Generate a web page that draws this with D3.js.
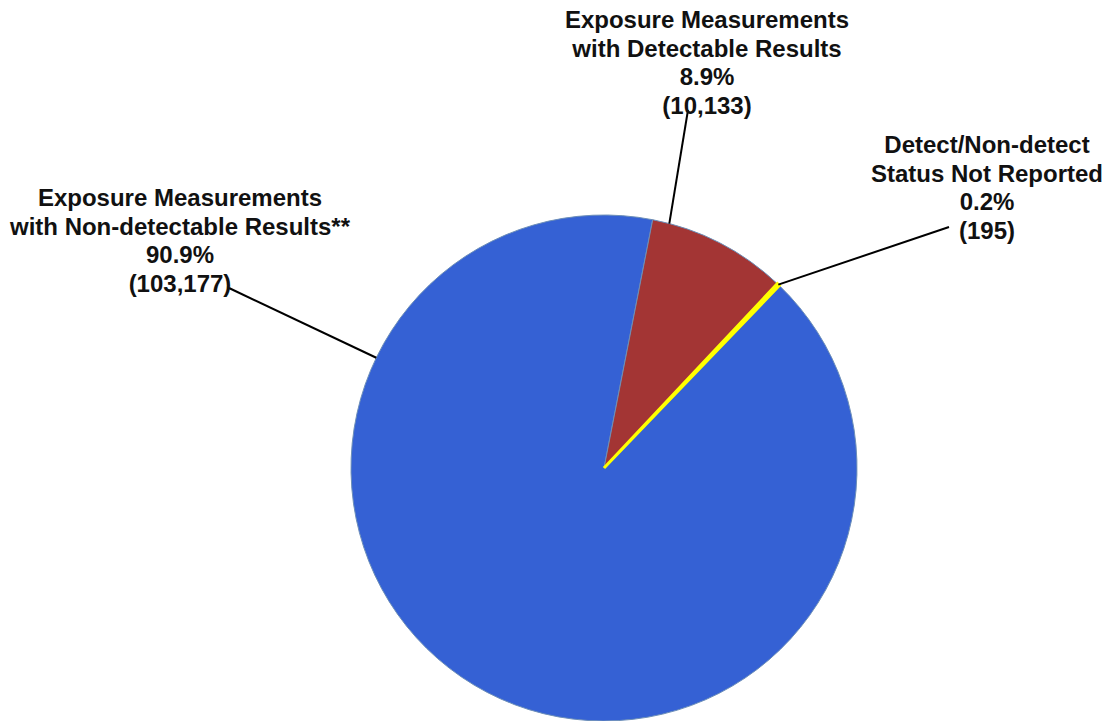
<!DOCTYPE html>
<html>
<head>
<meta charset="utf-8">
<script src="https://cdn.jsdelivr.net/npm/d3@7"></script>
<style>
  html, body { margin: 0; padding: 0; background: #ffffff; }
  svg { display: block; }
  text { font-family: "Liberation Sans", Arial, sans-serif; font-weight: bold; fill: #111; }
</style>
</head>
<body>
<svg id="chart" width="1106" height="721"></svg>
<script>
// ---- data ----
const categories = [
  ["Exposure Measurements", "with Detectable Results"],
  ["Detect/Non-detect", "Status Not Reported"],
  ["Exposure Measurements", "with Non-detectable Results**"]
];
const counts = [10133, 195, 103177];
const percentLabels = ["8.9%", "0.2%", "90.9%"];
const colors = ["#A33534", "#FFFF00", "#3561D4"];

// ---- layout ----
const W = 1106, H = 721;
const cx = 604, cy = 468, R = 253;
const startDeg = 11.1;
const fontSize = 24, lineH = 28.5;

// label layout: center x, first line center y, anchor fraction within slice, leader end point
const labelLayout = [
  { x: 707, y: 20,  frac: 0.12, lx: 688, ly: 110 },
  { x: 987, y: 145, frac: 0.5,  lx: 949, ly: 227 },
  { x: 180, y: 198, frac: 0.77, lx: 229, ly: 288 }
];

const svg = d3.select("#chart");
const g = svg.append("g").attr("transform", `translate(${cx},${cy})`);

const pie = d3.pie().sort(null).value(d => d)
  .startAngle(startDeg * Math.PI / 180)
  .endAngle(startDeg * Math.PI / 180 + 2 * Math.PI);
const arcs = pie(counts);
const arc = d3.arc().innerRadius(0).outerRadius(R);

// draw big slices first, sliver last so it stays visible
const order = [2, 0, 1];
g.selectAll("path.slice")
  .data(order.map(i => ({ a: arcs[i], i })))
  .enter().append("path")
  .attr("class", "slice")
  .attr("d", d => arc(d.a))
  .attr("fill", d => colors[d.i])
  .attr("stroke", d => d.i === 1 ? "#FFFF00" : "#6d8fb8")
  .attr("stroke-width", d => d.i === 1 ? 3 : 1)
  .attr("stroke-linejoin", "miter");

// leader lines
arcs.forEach((a, i) => {
  const L = labelLayout[i];
  const ang = a.startAngle + (a.endAngle - a.startAngle) * L.frac;
  const px = cx + Math.sin(ang) * R;
  const py = cy - Math.cos(ang) * R;
  svg.append("line")
    .attr("x1", px).attr("y1", py)
    .attr("x2", L.lx).attr("y2", L.ly)
    .attr("stroke", "#000").attr("stroke-width", 2);
});

// labels
arcs.forEach((a, i) => {
  const L = labelLayout[i];
  const lines = categories[i].concat([percentLabels[i], "(" + d3.format(",")(counts[i]) + ")"]);
  const t = svg.append("text")
    .attr("text-anchor", "middle")
    .attr("font-size", fontSize);
  lines.forEach((s, k) => {
    t.append("tspan")
      .attr("x", L.x)
      .attr("y", L.y + k * lineH)
      .attr("dy", "0.35em")
      .text(s);
  });
});
</script>
</body>
</html>
